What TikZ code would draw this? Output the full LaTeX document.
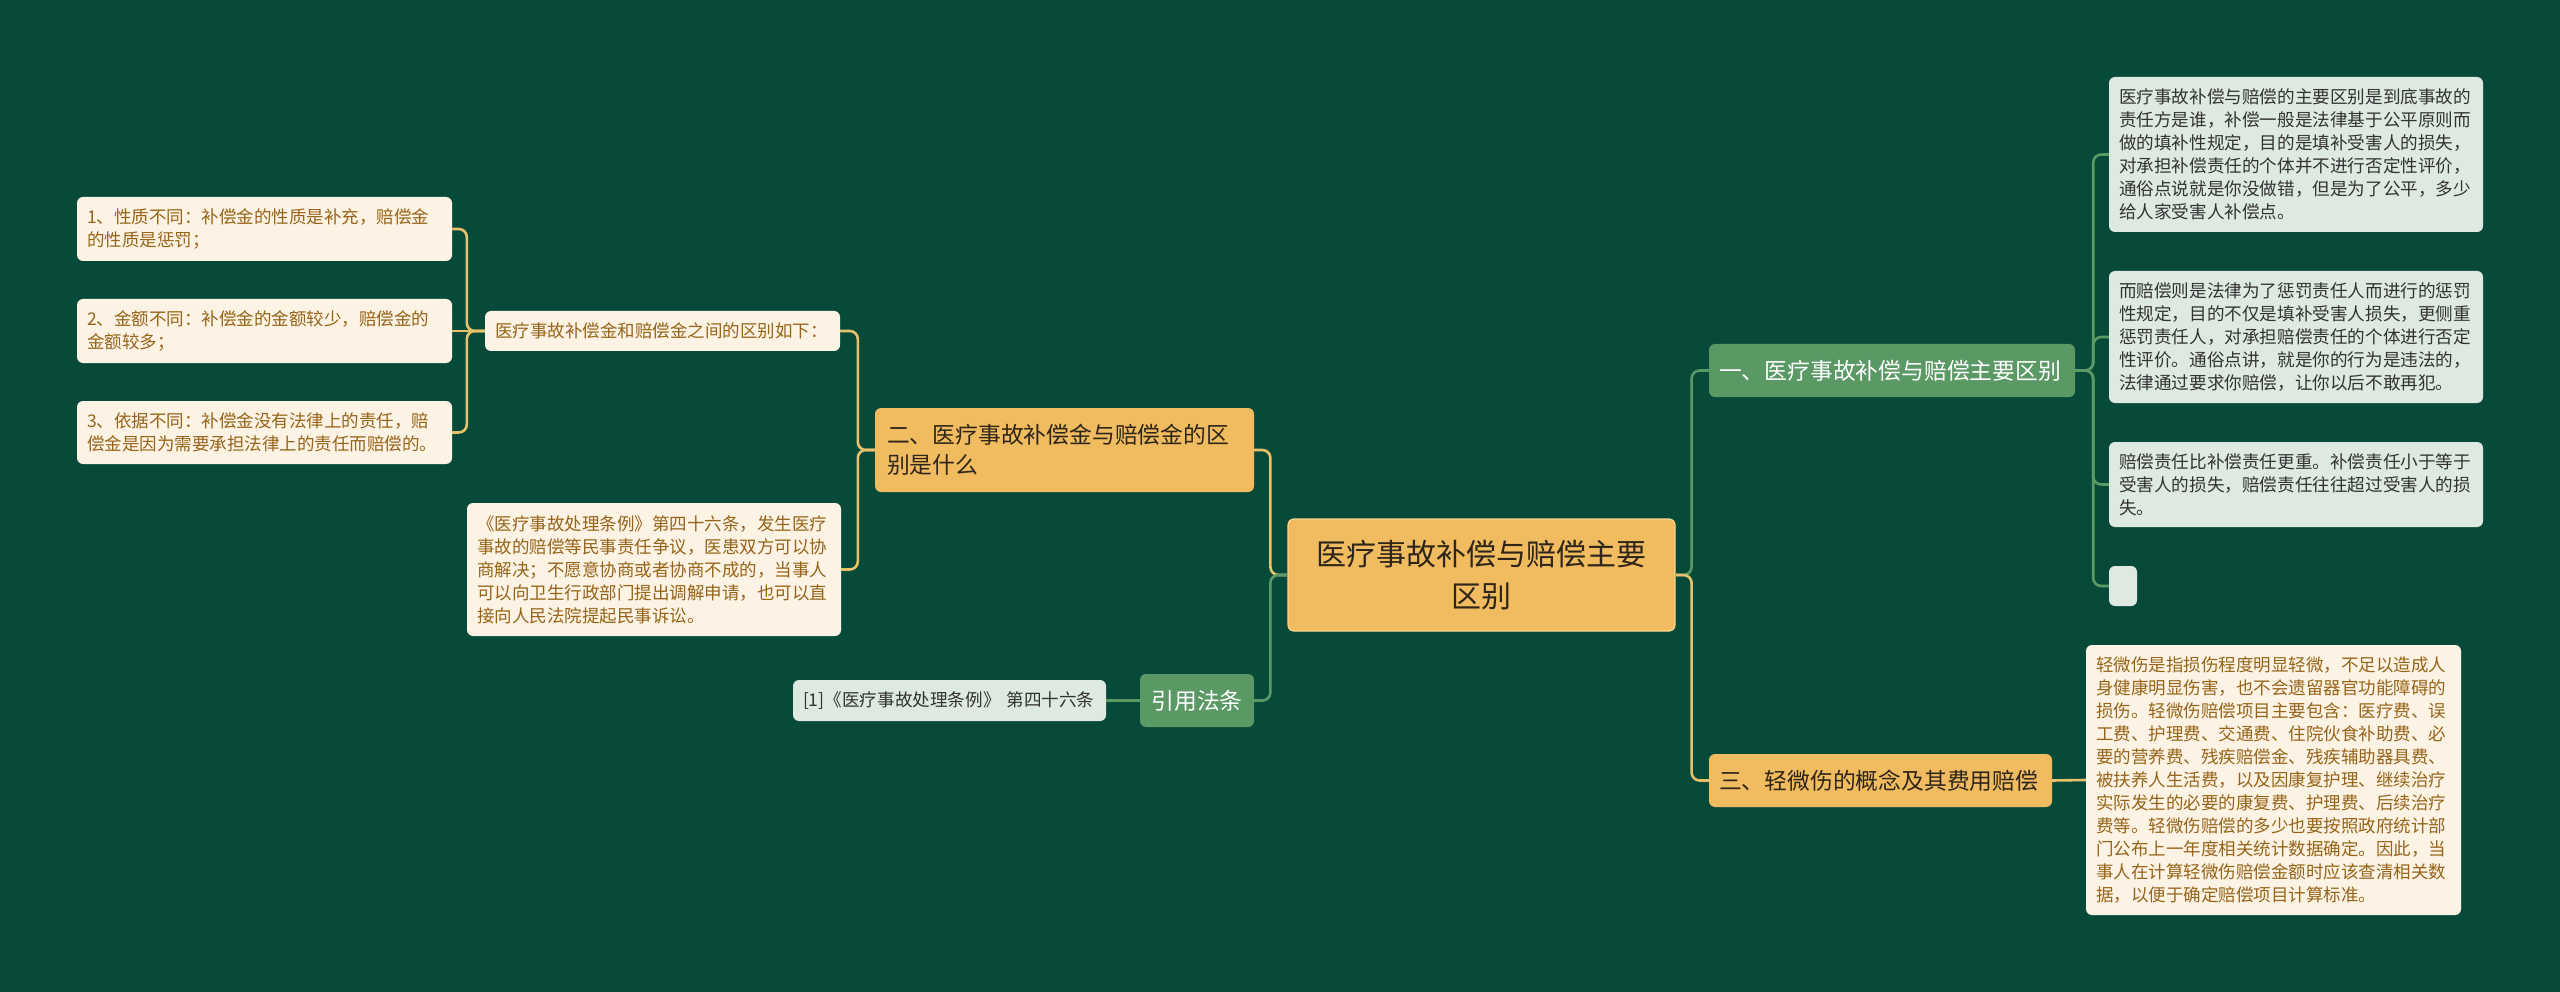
\documentclass[tikz,border=0pt]{standalone}
\usepackage{fontspec}
\setmainfont{Noto Sans CJK SC}
\definecolor{bg}{RGB}{8,74,58}
\definecolor{goldbox}{RGB}{241,187,96}
\definecolor{goldedge}{RGB}{250,214,140}
\definecolor{darktext}{RGB}{45,38,25}
\definecolor{cream}{RGB}{253,243,228}
\definecolor{creamtext}{RGB}{150,100,25}
\definecolor{greenbox}{RGB}{90,152,100}
\definecolor{lightgreen}{RGB}{222,234,225}
\definecolor{greytext}{RGB}{50,50,50}
\definecolor{goldline}{RGB}{232,194,106}
\definecolor{greenline}{RGB}{90,154,100}
\begin{document}
\begin{tikzpicture}[x=1pt,y=-1pt,
  box/.style={rounded corners=6pt, inner xsep=10pt, inner ysep=4pt, anchor=center},
  creamleaf/.style={box, fill=cream, text=creamtext, align=left, font=\fontsize{17.5}{23}\selectfont},
  greenleaf/.style={box, fill=lightgreen, text=greytext, align=left, font=\fontsize{17.6}{23}\selectfont},
  goldnode/.style={box, fill=goldbox, text=darktext, align=left, font=\fontsize{22.8}{30}\selectfont},
  greennode/.style={box, fill=greenbox, text=white, align=left, font=\fontsize{22.8}{30}\selectfont},
  gl/.style={draw=goldline, line width=2.6pt, rounded corners=8pt},
  grl/.style={draw=greenline, line width=2.6pt, rounded corners=8pt}
]
\fill[bg] (0,0) rectangle (2560,992);
\useasboundingbox (0,0) rectangle (2560,992);

% centre
\node[box, fill=goldbox, draw=goldedge, line width=1.2pt, text=darktext, align=center,
  minimum width=387pt, minimum height=112pt, text width=367pt,
  font=\fontsize{30}{42}\selectfont] (C) at (1481.5,575) {医疗事故补偿与赔偿主要\\区别};

% left branch
\node[goldnode, minimum width=379pt, minimum height=84pt, text width=355pt] (N2) at (1064.5,450)
  {二、医疗事故补偿金与赔偿金的区\\别是什么};
\node[creamleaf, minimum width=355pt, minimum height=40pt, text width=335pt] (Lmid) at (662.5,331)
  {医疗事故补偿金和赔偿金之间的区别如下：};
\node[creamleaf, minimum width=375pt, minimum height=64pt, text width=355pt] (L1) at (264.5,229)
  {1、性质不同：补偿金的性质是补充，赔偿金\\的性质是惩罚；};
\node[creamleaf, minimum width=375pt, minimum height=64pt, text width=355pt] (L2) at (264.5,331)
  {2、金额不同：补偿金的金额较少，赔偿金的\\金额较多；};
\node[creamleaf, minimum width=375pt, minimum height=63pt, text width=355pt] (L3) at (264.5,432.5)
  {3、依据不同：补偿金没有法律上的责任，赔\\偿金是因为需要承担法律上的责任而赔偿的。};
\node[creamleaf, minimum width=374pt, minimum height=133pt, text width=354pt] (Lcase) at (654,569.5)
  {《医疗事故处理条例》第四十六条，发生医疗\\事故的赔偿等民事责任争议，医患双方可以协\\商解决；不愿意协商或者协商不成的，当事人\\可以向卫生行政部门提出调解申请，也可以直\\接向人民法院提起民事诉讼。};

\node[greennode, minimum width=114pt, minimum height=53pt, align=center] (Cite) at (1197,700.5) {引用法条};
\node[greenleaf, minimum width=313pt, minimum height=41pt, text width=293pt] (Ref) at (949.5,700.5)
  {[1]《医疗事故处理条例》 第四十六条};

% right branch
\node[greennode, minimum width=366pt, minimum height=53pt, text width=346pt] (N1) at (1892,370.5)
  {一、医疗事故补偿与赔偿主要区别};
\node[goldnode, minimum width=343pt, minimum height=53pt, text width=323pt] (N3) at (1880.5,780.5)
  {三、轻微伤的概念及其费用赔偿};

\node[greenleaf, minimum width=374pt, minimum height=155pt, text width=354pt] (R1) at (2296,154.5)
  {医疗事故补偿与赔偿的主要区别是到底事故的\\责任方是谁，补偿一般是法律基于公平原则而\\做的填补性规定，目的是填补受害人的损失，\\对承担补偿责任的个体并不进行否定性评价，\\通俗点说就是你没做错，但是为了公平，多少\\给人家受害人补偿点。};
\node[greenleaf, minimum width=374pt, minimum height=132pt, text width=354pt] (R2) at (2296,337)
  {而赔偿则是法律为了惩罚责任人而进行的惩罚\\性规定，目的不仅是填补受害人损失，更侧重\\惩罚责任人，对承担赔偿责任的个体进行否定\\性评价。通俗点讲，就是你的行为是违法的，\\法律通过要求你赔偿，让你以后不敢再犯。};
\node[greenleaf, minimum width=374pt, minimum height=85pt, text width=354pt] (R3) at (2296,484.5)
  {赔偿责任比补偿责任更重。补偿责任小于等于\\受害人的损失，赔偿责任往往超过受害人的损\\失。};
\node[box, fill=lightgreen, minimum width=28pt, minimum height=40pt, inner xsep=0pt] (R4) at (2123,586) {};
\node[creamleaf, minimum width=375pt, minimum height=270pt, text width=355pt] (R5) at (2273.5,780)
  {轻微伤是指损伤程度明显轻微，不足以造成人\\身健康明显伤害，也不会遗留器官功能障碍的\\损伤。轻微伤赔偿项目主要包含：医疗费、误\\工费、护理费、交通费、住院伙食补助费、必\\要的营养费、残疾赔偿金、残疾辅助器具费、\\被扶养人生活费，以及因康复护理、继续治疗\\实际发生的必要的康复费、护理费、后续治疗\\费等。轻微伤赔偿的多少也要按照政府统计部\\门公布上一年度相关统计数据确定。因此，当\\事人在计算轻微伤赔偿金额时应该查清相关数\\据，以便于确定赔偿项目计算标准。};

% connectors: centre left
\draw[gl] (C.west) -- ([xshift=-17pt]C.west) |- (N2.east);
\draw[grl] (C.west) -- ([xshift=-17pt]C.west) |- (Cite.east);
% N2 children
\draw[gl] (N2.west) -- ([xshift=-17pt]N2.west) |- (Lmid.east);
\draw[gl] (N2.west) -- ([xshift=-17pt]N2.west) |- (Lcase.east);
% Lmid children
\draw[gl] (Lmid.west) -- ([xshift=-18pt]Lmid.west) |- (L1.east);
\draw[gl] (Lmid.west) -- (L2.east);
\draw[gl] (Lmid.west) -- ([xshift=-18pt]Lmid.west) |- (L3.east);
% cite
\draw[grl] (Cite.west) -- (Ref.east);
% centre right
\draw[grl] (C.east) -- ([xshift=16pt]C.east) |- (N1.west);
\draw[gl] (C.east) -- ([xshift=16pt]C.east) |- (N3.west);
% N1 children
\draw[grl] (N1.east) -- ([xshift=18pt]N1.east) |- (R1.west);
\draw[grl] (N1.east) -- ([xshift=18pt]N1.east) |- (R2.west);
\draw[grl] (N1.east) -- ([xshift=18pt]N1.east) |- (R3.west);
\draw[grl] (N1.east) -- ([xshift=18pt]N1.east) |- (R4.west);
% N3 child
\draw[gl] (N3.east) -- (R5.west);
\end{tikzpicture}
\end{document}
